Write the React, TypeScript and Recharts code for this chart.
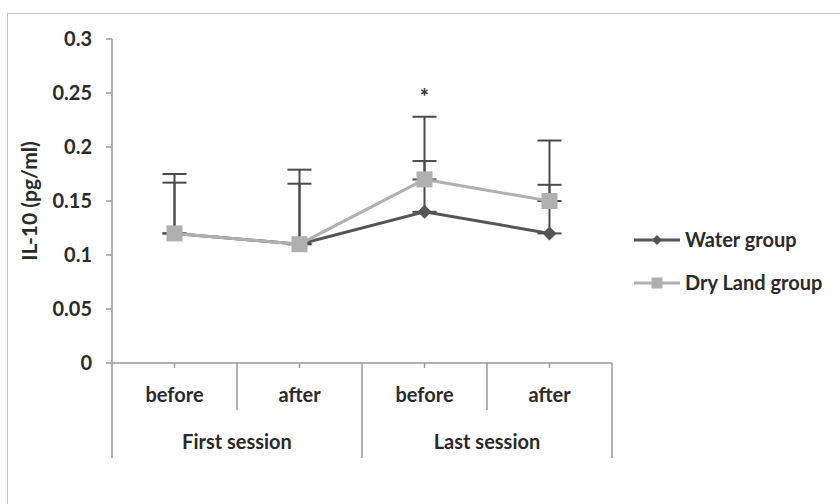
import React from "react";
import {
  ComposedChart,
  Line,
  XAxis,
  YAxis,
  ErrorBar,
  Legend,
} from "recharts";

const phases = ["before", "after", "before", "after"];
const sessions = ["First session", "Last session"];
const waterValues = [0.12, 0.11, 0.14, 0.12];
const waterErrors = [0.047, 0.056, 0.047, 0.045];
const dryValues = [0.12, 0.11, 0.17, 0.15];
const dryErrors = [0.055, 0.069, 0.058, 0.056];
const significance = [null, null, 0.249, null];
const yTicks = [0, 0.05, 0.1, 0.15, 0.2, 0.25, 0.3];

const data = phases.map((p, i) => ({
  key: `${p}-${i}`,
  phase: p,
  session: sessions[Math.floor(i / 2)],
  water: waterValues[i],
  waterErr: [0, waterErrors[i]],
  dry: dryValues[i],
  dryErr: [0, dryErrors[i]],
  sig: significance[i],
}));

const W = 840;
const H = 504;
const LEGEND_W = 226;
const MARGIN = { top: 39, right: 228 - LEGEND_W, bottom: 111, left: 52 };
const Y_AXIS_W = 60;
const PLOT_W = W - MARGIN.left - MARGIN.right - Y_AXIS_W - LEGEND_W;
const HALF_BAND = PLOT_W / phases.length / 2;

const FONT = "Lato, 'Open Sans', sans-serif";
const FS = 20;
const FW = "bold";
const TEXT = "#2a2a2a";
const AXIS = "#9a9a9a";
const WATER = "#555555";
const DRY = "#b0b0b0";
const ERR = "#4a4a4a";

const XTick = (props: any) => {
  const { x, y, payload, index } = props;
  const axisY = y - 7;
  const phase = data[index]?.phase ?? payload.value;
  const isGroupStart = index % 2 === 0;
  const isLast = index === data.length - 1;
  return (
    <g>
      <text x={x} y={y + 32} textAnchor="middle" fontFamily={FONT} fontSize={FS} fontWeight={FW} fill={TEXT}>
        {phase}
      </text>
      {isGroupStart ? (
        <>
          <line x1={x - HALF_BAND} y1={axisY} x2={x - HALF_BAND} y2={axisY + 95} stroke={AXIS} strokeWidth={1.5} />
          <line x1={x + HALF_BAND} y1={axisY} x2={x + HALF_BAND} y2={axisY + 47} stroke={AXIS} strokeWidth={1.5} />
          <text x={x + HALF_BAND} y={y + 79} textAnchor="middle" fontFamily={FONT} fontSize={FS} fontWeight={FW} fill={TEXT}>
            {data[index].session}
          </text>
        </>
      ) : null}
      {isLast ? (
        <line x1={x + HALF_BAND} y1={axisY} x2={x + HALF_BAND} y2={axisY + 95} stroke={AXIS} strokeWidth={1.5} />
      ) : null}
    </g>
  );
};

const Diamond = (props: any) => {
  const { cx, cy, r = 7, fill } = props;
  if (cx == null || cy == null) return null;
  return (
    <polygon
      points={`${cx},${cy - r} ${cx + r},${cy} ${cx},${cy + r} ${cx - r},${cy}`}
      fill={fill}
    />
  );
};

const Square = (props: any) => {
  const { cx, cy, s = 15, fill } = props;
  if (cx == null || cy == null) return null;
  return <rect x={cx - s / 2} y={cy - s / 2} width={s} height={s} fill={fill} />;
};

const StarDot = (props: any) => {
  const { cx, cy, value } = props;
  if (cx == null || cy == null || value == null) return null;
  return (
    <text x={cx} y={cy + 11} textAnchor="middle" fontFamily={FONT} fontSize={22} fontWeight="bold" fill="#333">
      *
    </text>
  );
};

const LegendContent = () => {
  const items = [
    { label: "Water group", color: WATER, kind: "diamond" },
    { label: "Dry Land group", color: DRY, kind: "square" },
  ];
  return (
    <svg width={LEGEND_W} height={70}>
      {items.map((it, i) => {
        const cy = 12 + i * 43;
        return (
          <g key={it.label}>
            <line x1={22} y1={cy} x2={68} y2={cy} stroke={it.color} strokeWidth={3} />
            {it.kind === "diamond" ? (
              <Diamond cx={45} cy={cy} r={5} fill={it.color} />
            ) : (
              <Square cx={45} cy={cy} s={11} fill={it.color} />
            )}
            <text x={73} y={cy + 7} fontFamily={FONT} fontSize={FS} fontWeight={FW} fill={TEXT}>
              {it.label}
            </text>
          </g>
        );
      })}
    </svg>
  );
};

export default function App() {
  return (
    <div
      style={{
        position: "absolute",
        left: 0,
        top: 0,
        width: W,
        height: H,
        overflow: "hidden",
        background: "#fff",
      }}
    >
      <div
        style={{
          position: "absolute",
          left: 7,
          top: 13,
          width: 900,
          height: 600,
          border: "1.5px solid #c4c4c4",
        }}
      />
      <div style={{ position: "absolute", left: 0, top: 0 }}>
        <ComposedChart width={W} height={H} data={data} margin={MARGIN}>
          <XAxis
            dataKey="key"
            type="category"
            scale="band"
            axisLine={{ stroke: AXIS, strokeWidth: 1.5 }}
            tickLine={{ stroke: AXIS, strokeWidth: 1.5 }}
            tickSize={5}
            tickMargin={2}
            tick={<XTick />}
            interval={0}
          />
          <YAxis
            width={Y_AXIS_W}
            domain={[0, 0.3]}
            ticks={yTicks}
            interval={0}
            axisLine={{ stroke: AXIS, strokeWidth: 1.5 }}
            tickLine={{ stroke: AXIS, strokeWidth: 1.5 }}
            tickSize={6}
            tickMargin={14}
            tick={{ fontFamily: FONT, fontSize: FS, fontWeight: FW, fill: TEXT }}
            label={(p: any) => {
              const vb = p.viewBox;
              const cx = vb.x - 24;
              const cy = vb.y + vb.height / 2;
              return (
                <text
                  x={cx}
                  y={cy}
                  transform={`rotate(-90 ${cx} ${cy})`}
                  textAnchor="middle"
                  dominantBaseline="central"
                  fontFamily={FONT}
                  fontSize={21}
                  fontWeight="bold"
                  fill={TEXT}
                >
                  IL-10 (pg/ml)
                </text>
              );
            }}
          />
          <Legend
            layout="vertical"
            align="right"
            verticalAlign="middle"
            wrapperStyle={{ left: 612, top: 228, width: LEGEND_W }}
            content={<LegendContent />}
          />
          <Line dataKey="water" stroke="none" dot={false} activeDot={false} legendType="none" isAnimationActive={false}>
            <ErrorBar dataKey="waterErr" direction="y" width={12} stroke={ERR} strokeWidth={2} />
          </Line>
          <Line dataKey="dry" stroke="none" dot={false} activeDot={false} legendType="none" isAnimationActive={false}>
            <ErrorBar dataKey="dryErr" direction="y" width={12} stroke={ERR} strokeWidth={2} />
          </Line>
          <Line
            dataKey="water"
            name="Water group"
            stroke={WATER}
            strokeWidth={3}
            dot={<Diamond r={7} fill={WATER} />}
            activeDot={false}
            isAnimationActive={false}
          />
          <Line
            dataKey="dry"
            name="Dry Land group"
            stroke={DRY}
            strokeWidth={3}
            dot={<Square s={16} fill={DRY} />}
            activeDot={false}
            isAnimationActive={false}
          />
          <Line
            dataKey="sig"
            stroke="none"
            legendType="none"
            dot={<StarDot />}
            activeDot={false}
            isAnimationActive={false}
          />
        </ComposedChart>
      </div>
    </div>
  );
}
